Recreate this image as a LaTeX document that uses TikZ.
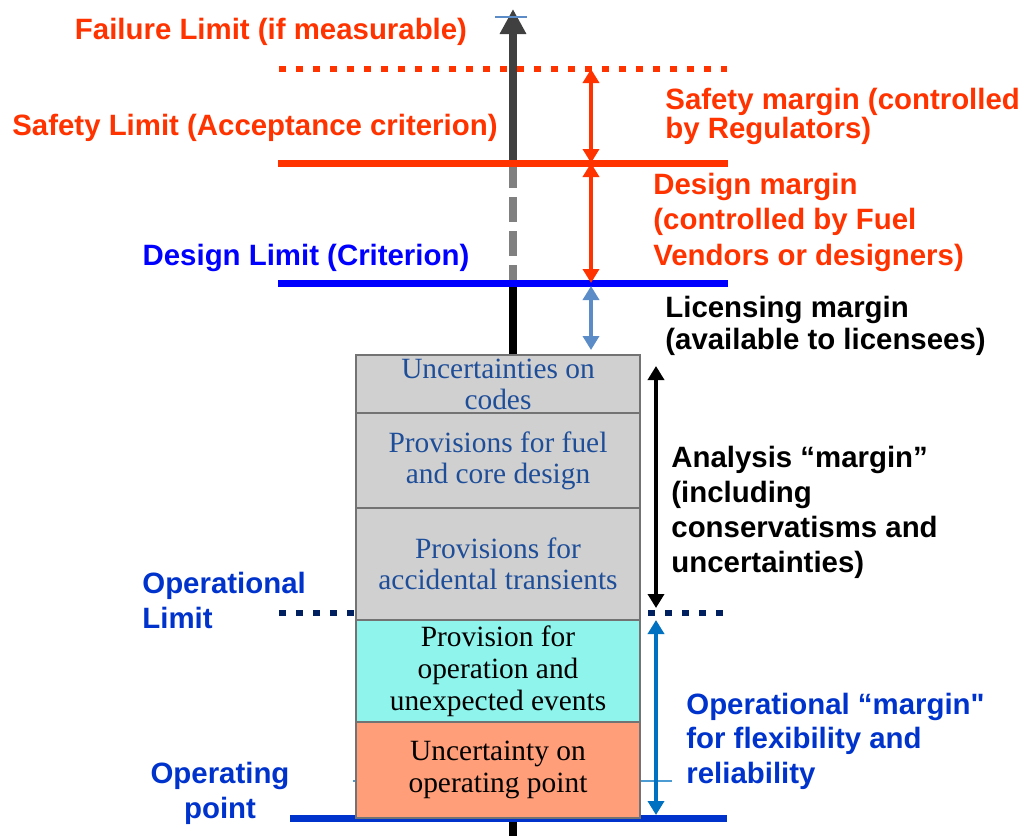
\documentclass[tikz,border=0pt]{standalone}
\usepackage{fontspec}
\setmainfont{Liberation Sans}
\newfontfamily\boxfont{Liberation Serif}
\font\quotefont="Liberation Sans/B" at 14.7pt
\usetikzlibrary{arrows.meta,positioning}
\definecolor{limitred}{HTML}{FF3300}
\definecolor{limitblue}{HTML}{0000FF}
\definecolor{opblue}{HTML}{0033CC}
\definecolor{navy}{HTML}{002060}
\definecolor{arrowblue}{HTML}{0070C0}
\definecolor{licblue}{HTML}{5B8CC8}
\definecolor{boxgray}{HTML}{D0D0D0}
\definecolor{boxcyan}{HTML}{8EF4EC}
\definecolor{boxsalmon}{HTML}{FF9E78}
\definecolor{boxtext}{HTML}{1F4E99}
\definecolor{axisgray}{HTML}{404040}
\tikzset{
  lbl/.style={inner sep=0pt, font=\fontsize{14.7}{17.5}\selectfont\bfseries, align=left},
  limitline/.style={line width=3.5pt},
  dotline/.style={line width=3pt, dash pattern=on 3.5pt off 5pt},
  layer/.style={draw=black!55, line width=0.75pt, minimum width=142pt, outer sep=0pt, inner sep=0pt,
    font=\boxfont\fontsize{14.7}{15.5}\selectfont, align=center},
  margin/.style={line width=2pt, {Triangle[width=8pt,length=7pt]}-{Triangle[width=8pt,length=7pt]}},
}
\begin{document}
\begin{tikzpicture}[x=0.5pt,y=-0.5pt]
\useasboundingbox (0,0) rectangle (1024,836);

\coordinate (top) at (513,9);										% axis tip
\coordinate (safe) at (513,163);									% axis at safety limit
\coordinate (design) at (513,283);									% axis at design limit
\coordinate (bottom) at (513,836);									% axis foot
\draw[axisgray, line width=4pt, -{Triangle[width=12.5pt,length=12.5pt]}] (safe) -- (top);	% axis upper part
\draw[gray, line width=4pt, dash pattern=on 12.5pt off 4.5pt] (safe) -- (design);		% axis dashed part
\draw[black, line width=4pt] (design) -- (bottom);							% axis lower part
\draw[licblue, line width=0.75pt] (495,17) -- (527,17);						% tick at top

\draw[limitred, dotline] (279,69) -- (727,69);						% failure limit
\draw[limitred, limitline] (278,163) -- (728,163);					% safety limit
\draw[limitblue, limitline] (278,283) -- (728,283);					% design limit
\draw[navy, dotline] (279,613) -- (356,613);						% operational limit left
\draw[navy, dotline] (648,613) -- (727,613);						% operational limit right
\draw[opblue, limitline] (290,818) -- (727,818);					% operating point
\draw[arrowblue!70, line width=0.6pt] (353,781) -- (672,781);		% thin mark

\node[layer, fill=boxgray, text=boxtext, minimum height=29pt] (codes) at (498,384) {Uncertainties on\\codes};
\node[layer, fill=boxgray, text=boxtext, minimum height=47.5pt, below=0pt of codes] (fuel) {Provisions for fuel\\and core design};
\node[layer, fill=boxgray, text=boxtext, minimum height=56pt, below=0pt of fuel] (accid) {Provisions for\\accidental transients};
\node[layer, fill=boxcyan, minimum height=51pt, below=0pt of accid, font=\boxfont\fontsize{14.7}{16}\selectfont] (oper) {Provision for\\operation and\\unexpected events};
\node[layer, fill=boxsalmon, minimum height=48pt, below=0pt of oper, font=\boxfont\fontsize{14.7}{16}\selectfont] (point) {Uncertainty on\\operating point};

\draw[margin, limitred] (591,69) -- (591,163);						% safety margin
\draw[margin, limitred] (591,163) -- (591,283);						% design margin
\draw[margin, licblue] (591,286) -- (591,350);						% licensing margin
\draw[margin, black] (656,366) -- (656,608);						% analysis margin
\draw[margin, arrowblue] (656,620) -- (656,815);					% operational margin

\node[lbl, limitred] (failure) at (271,32) {Failure Limit (if measurable)};
\node[lbl, limitred] (safety) at (255,128) {Safety Limit (Acceptance criterion)};
\node[lbl, limitblue] (designlim) at (306,258) {Design Limit (Criterion)};
\node[lbl, opblue, anchor=west] (oplim) at (142,600) {Operational\\Limit};
\node[lbl, opblue, align=center] (oppoint) at (220,793) {Operating\\point};

\node[lbl, limitred, anchor=west, font=\fontsize{14.7}{14.5}\selectfont\bfseries] (safemarg) at (665,116) {Safety margin (controlled\\by Regulators)};
\node[lbl, limitred, anchor=west, font=\fontsize{14.7}{17.75}\selectfont\bfseries] (designmarg) at (653,222) {Design margin\\(controlled by Fuel\\Vendors or designers)};
\node[lbl, anchor=west, font=\fontsize{14.7}{16}\selectfont\bfseries] (licmarg) at (665,326) {Licensing margin\\(available to licensees)};
\node[lbl, anchor=west] (anmarg) at (671,512) {Analysis “margin”\\(including\\conservatisms and\\uncertainties)};
\node[lbl, opblue, anchor=west, font=\fontsize{14.7}{17.25}\selectfont\bfseries] (opmarg) at (686,741) {Operational “margin{\quotefont"}\\for flexibility and\\reliability};

\end{tikzpicture}
\end{document}
